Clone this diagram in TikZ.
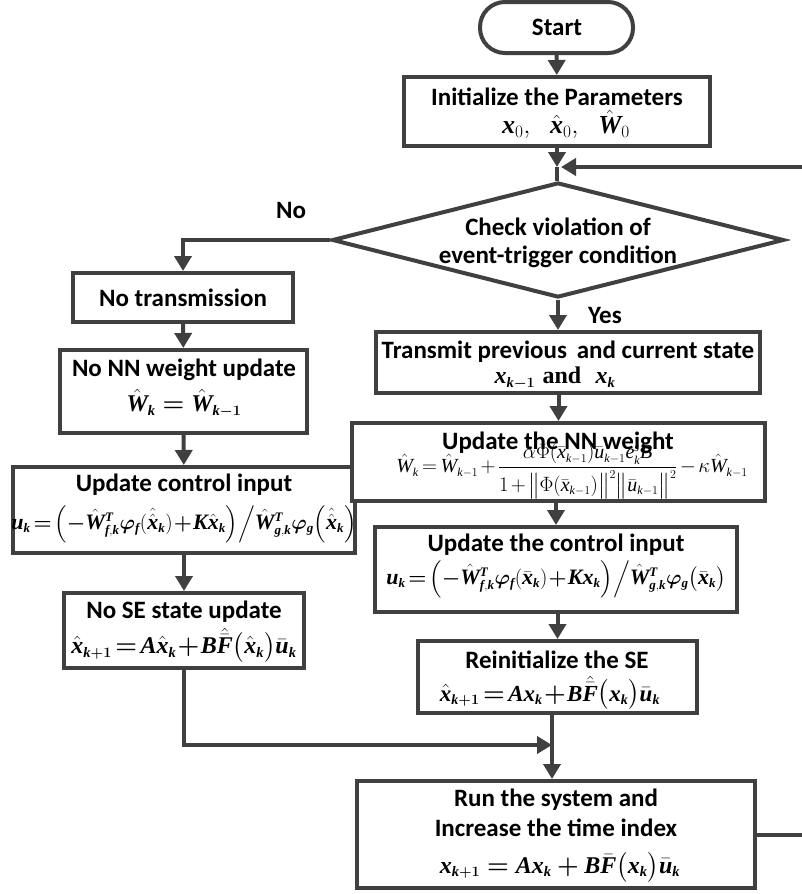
\documentclass[tikz,border=0pt]{standalone}
\usepackage{fontspec}
\usepackage{amsmath}
\usepackage{bm}
\newfontfamily\labfont{Carlito}
\newfontfamily\tms{Liberation Serif}[NFSSFamily=lsf]
% Times-like letters for the formulas
\DeclareMathAlphabet{\mbi}{TU}{lsf}{bx}{it}
\DeclareMathAlphabet{\mti}{TU}{lsf}{m}{it}
\newcommand\bi[1]{\mbi{#1}}
\newcommand\ti[1]{\mti{#1}}
% compact sub- and superscripts
\DeclareMathSizes{20}{20}{12}{9}
\DeclareMathSizes{22}{22}{13}{10}
\DeclareMathSizes{23}{23}{14}{10}
\DeclareMathSizes{24}{24}{14.5}{11}
\DeclareMathSizes{26}{26}{17}{12}
\usetikzlibrary{arrows.meta,shapes.geometric}
\definecolor{lc}{HTML}{404040}

\begin{document}
\begin{tikzpicture}[x=1pt,y=-1pt,
  lab/.style={inner sep=0pt, font=\labfont\bfseries\fontsize{25}{30}\selectfont},
  eq/.style={inner sep=0pt, font=\fontsize{24}{29}\selectfont},
  tight/.style={execute at begin node={\thickmuskip=2.5mu\relax\medmuskip=1mu\relax}},
  box/.style={draw=lc, line width=4pt, rectangle, fill=white, inner sep=0pt},
  flow/.style={draw=lc, line width=4pt, -{Triangle[length=15pt,width=17pt]}},
  link/.style={draw=lc, line width=4pt},
]
\useasboundingbox (0,0) rectangle (801,894);

% ---- boxes ----
\node[box, rounded corners=25pt, minimum width=153pt, minimum height=51pt] (start) at (556.5,27.5) {};
\node[box, minimum width=306pt, minimum height=69pt] (init) at (557,111.5) {};
\node[draw=lc, line width=4pt, diamond, fill=white, inner sep=0pt,
      minimum width=452pt, minimum height=115pt] (dia) at (558,240) {};

\node[box, minimum width=220pt, minimum height=49pt] (notx) at (183,297.5) {};
\node[box, minimum width=247pt, minimum height=83pt] (nonn) at (183.5,391.5) {};
\node[box, minimum width=342pt, minimum height=86pt] (ucl) at (184,510) {};
\node[box, minimum width=240pt, minimum height=75pt] (nose) at (184,630.5) {};

\node[box, minimum width=384pt, minimum height=61pt] (tx) at (568,362.5) {};
\node[box, minimum width=413pt, minimum height=78pt] (nn) at (558.5,462) {};
\node[box, minimum width=362pt, minimum height=85pt] (ucr) at (556,569.5) {};
\node[box, minimum width=279pt, minimum height=72pt] (reinit) at (557.5,677) {};
\node[box, minimum width=398pt, minimum height=107pt] (run) at (556,834.5) {};

% ---- texts ----
\node[lab] (start-t) at (557,27) {Start};
\node[lab] (init-t) at (557,97) {Initialize the Parameters};
\node[eq, font=\fontsize{26}{30}\selectfont] (init-m) at (566,124)
  {$\bi{x}_0,\ \ \hat{\bi{x}}_0,\ \ \hat{\bi{W}}_0$};

\node[lab] (dia-t1) at (558,227) {Check violation of};
\node[lab] (dia-t2) at (558,257) {event-trigger condition};
\node[lab] (no) at (291,210) {No};
\node[lab] (yes) at (605,315) {Yes};

\node[lab] (notx-t) at (183,298) {No transmission};
\node[lab] (nonn-t) at (184,370) {No NN weight update};
\node[eq] (nonn-m) at (184,403) {$\hat{\bi{W}}_{\bi{k}}\bm{=}\hat{\bi{W}}_{\bi{k}\bm{-}\bm{1}}$};
\node[lab] (ucl-t) at (184,485) {Update control input};
\node[eq, tight, font=\fontsize{22}{26}\selectfont] (ucl-m) at (184,524)
  {$\bi{u}_{\bi{k}}\bm{=}\Bigl(\bm{-}\hat{\bi{W}}^{\bi{T}}_{\bi{f},\bi{k}}\bm{\varphi}_{\bi{f}}(\hat{\hat{\bi{x}}}_{\bi{k}})\bm{+}\bi{K}\hat{\bi{x}}_{\bi{k}}\Bigr)\Big/\hat{\bi{W}}^{\bi{T}}_{\bi{g},\bi{k}}\bm{\varphi}_{\bi{g}}\Bigl(\hat{\hat{\bi{x}}}_{\bi{k}}\Bigr)$};
\node[lab] (nose-t) at (184,612) {No SE state update};
\node[eq, tight] (nose-m) at (184,645)
  {$\hat{\bi{x}}_{\bi{k}\bm{+}\bm{1}}\bm{=}\bi{A}\hat{\bi{x}}_{\bi{k}}\bm{+}\bi{B}\hat{\bar{\bi{F}}}\bigl(\hat{\bi{x}}_{\bi{k}}\bigr)\bar{\bi{u}}_{\bi{k}}$};

\node[lab] (tx-t) at (568,352) {Transmit previous\, and current state};
\node[eq] (tx-m) at (555,378) {$\bi{x}_{\bi{k}\bm{-}\bm{1}}$\ {\tms\bfseries and}\ \ $\bi{x}_{\bi{k}}$};
\node[lab] (nn-t) at (558,443) {Update the NN weight};
\node[eq, font=\fontsize{20}{24}\selectfont,
      execute at begin node={\thickmuskip=3mu\relax\medmuskip=2mu\relax}] (nn-m) at (572,471)
  {$\displaystyle\hat{\ti{W}}_{\ti{k}}=\hat{\ti{W}}_{\ti{k}-1}+\frac{\alpha\Phi(\bar{\ti{x}}_{\ti{k}-1})\bar{\ti{u}}_{\ti{k}-1}\ti{e}_{\ti{k}}^{\ti{s}}\ti{B}}{1+\bigl\|\Phi(\bar{\ti{x}}_{\ti{k}-1})\bigr\|^2\bigl\|\bar{\ti{u}}_{\ti{k}-1}\bigr\|^2}-\kappa\hat{\ti{W}}_{\ti{k}-1}$};
\node[lab] (ucr-t) at (556,545) {Update the control input};
\node[eq, tight, font=\fontsize{22}{26}\selectfont] (ucr-m) at (556,579)
  {$\bi{u}_{\bi{k}}\bm{=}\Bigl(\bm{-}\hat{\bi{W}}^{\bi{T}}_{\bi{f},\bi{k}}\bm{\varphi}_{\bi{f}}(\bar{\bi{x}}_{\bi{k}})\bm{+}\bi{K}\bi{x}_{\bi{k}}\Bigr)\Big/\hat{\bi{W}}^{\bi{T}}_{\bi{g},\bi{k}}\bm{\varphi}_{\bi{g}}\bigl(\bar{\bi{x}}_{\bi{k}}\bigr)$};
\node[lab] (reinit-t) at (557,660) {Reinitialize the SE};
\node[eq, tight, font=\fontsize{23}{27}\selectfont] (reinit-m) at (550,693)
  {$\hat{\bi{x}}_{\bi{k}\bm{+}\bm{1}}\bm{=}\bi{A}\bi{x}_{\bi{k}}\bm{+}\bi{B}\hat{\bar{\bi{F}}}\bigl(\bi{x}_{\bi{k}}\bigr)\bar{\bi{u}}_{\bi{k}}$};
\node[lab] (run-t1) at (556,800) {Run the system and};
\node[lab] (run-t2) at (556,828) {Increase the time index};
\node[eq] (run-m) at (560,867)
  {$\bi{x}_{\bi{k}\bm{+}\bm{1}}\bm{=}\bi{A}\bi{x}_{\bi{k}}\bm{+}\bi{B}\bar{\bi{F}}\bigl(\bi{x}_{\bi{k}}\bigr)\bar{\bi{u}}_{\bi{k}}$};

% ---- junctions ----
\coordinate (j1) at (557,167);
\coordinate (m) at (552,745);

% ---- connectors ----
\draw[flow] (start) -- (init);
\draw[flow] (init.south) -- (j1);
\draw[link] (j1) -- (j1 |- dia.north);
\draw[flow] (run.east) -- ++(80,0) |- ([xshift=4pt]j1);
\draw[flow] (dia.west) -| (notx.north);
\draw[flow] (dia.south) -- (dia.south |- tx.north);
\draw[flow] (tx.south -| nn.north) -- (nn.north);
\draw[flow] (nn.south -| ucr.north) -- (ucr.north);
\draw[flow] (ucr.south -| reinit.north) -- (reinit.north);
\draw[link] (reinit.south -| m) -- (m);
\draw[flow] (m) -- (run.north -| m);
\draw[flow] (nose.south) |- (m);
\draw[flow] (notx) -- (nonn);
\draw[flow] (nonn) -- (ucl);
\draw[flow] (ucl) -- (nose);
\end{tikzpicture}
\end{document}
